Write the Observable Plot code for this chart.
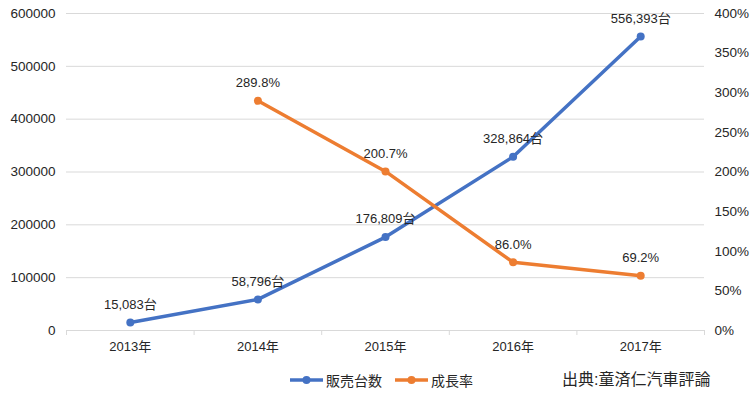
<!DOCTYPE html>
<html>
<head>
<meta charset="utf-8">
<script src="https://cdn.jsdelivr.net/npm/d3@7"></script>
<script src="https://cdn.jsdelivr.net/npm/@observablehq/plot@0.6"></script>
<style>
  body { margin: 0; background: #fff; }
  #wrap { position: relative; width: 755px; height: 394px; font-family: "Liberation Sans", Arial, "Noto Sans CJK JP", sans-serif; color: #262626; }
  #legend { position: absolute; top: 370px; left: 0; width: 755px; height: 22px; font-size: 14px; }
  .item { position: absolute; top: 0; display: flex; align-items: center; height: 20px; white-space: nowrap; }
  .src { position: absolute; top: 0; left: 562px; height: 20px; line-height: 20px; font-size: 16px; white-space: nowrap; }
</style>
</head>
<body>
<div id="wrap">
  <div id="chart"></div>
  <div id="legend"></div>
</div>
<script>
const years = ["2013年", "2014年", "2015年", "2016年", "2017年"];
const sales = [15083, 58796, 176809, 328864, 556393];
const growthYears = ["2014年", "2015年", "2016年", "2017年"];
const growth = [289.8, 200.7, 86.0, 69.2];
const leftTicks = [0, 100000, 200000, 300000, 400000, 500000, 600000];
const rightTicks = [0, 50, 100, 150, 200, 250, 300, 350, 400];
const seriesNames = ["販売台数", "成長率"];
const colors = ["#4472C4", "#ED7D31"];
const sourceText = "出典:童済仁汽車評論";

const ratio = 600000 / 400; // right axis (%) mapped onto left axis range
const salesData = sales.map((v, i) => ({i, v, label: d3.format(",")(v) + "台"}));
const growthData = growth.map((g, j) => ({i: years.indexOf(growthYears[j]), v: g * ratio, label: g.toFixed(1) + "%"}));
const bounds = d3.range(years.length + 1).map(k => k - 0.5);

const chart = Plot.plot({
  width: 755,
  height: 362,
  marginTop: 13,
  marginBottom: 32,
  marginLeft: 66,
  marginRight: 51,
  style: {fontFamily: '"Liberation Sans", Arial, "Noto Sans CJK JP", sans-serif', fontSize: "13px", color: "#262626", background: "#fff"},
  x: {type: "linear", domain: [-0.5, years.length - 0.5]},
  y: {domain: [0, 600000]},
  marks: [
    Plot.gridY(leftTicks.slice(1), {stroke: "#d9d9d9", strokeOpacity: 1, strokeWidth: 1}),
    Plot.ruleY([0], {stroke: "#d9d9d9", strokeWidth: 1}),
    Plot.axisX({ticks: bounds, tickSize: 5, tickFormat: () => "", stroke: "#d9d9d9", label: null}),
    Plot.axisX({ticks: d3.range(years.length), tickSize: 0, tickPadding: 11, tickFormat: i => years[i], label: null, fontSize: 13}),
    Plot.axisY({ticks: leftTicks, tickSize: 0, tickPadding: 11, tickFormat: d => String(d), label: null, fontSize: 13.5}),
    Plot.axisY({anchor: "right", ticks: rightTicks.map(p => p * ratio), tickSize: 0, tickPadding: 10, tickFormat: v => Math.round(v / ratio) + "%", label: null, fontSize: 13.5}),
    Plot.line(salesData, {x: "i", y: "v", stroke: colors[0], strokeWidth: 3.5}),
    Plot.dot(salesData, {x: "i", y: "v", r: 4, fill: colors[0]}),
    Plot.line(growthData, {x: "i", y: "v", stroke: colors[1], strokeWidth: 3.5}),
    Plot.dot(growthData, {x: "i", y: "v", r: 4, fill: colors[1]}),
    Plot.text(salesData, {x: "i", y: "v", text: "label", dy: -18, fontSize: 13, fill: "#262626"}),
    Plot.text(growthData, {x: "i", y: "v", text: "label", dy: -18, fontSize: 13, fill: "#262626"})
  ]
});
document.getElementById("chart").appendChild(chart);

const legend = document.getElementById("legend");
const positions = [290, 395];
seriesNames.forEach((name, k) => {
  const item = document.createElement("div");
  item.className = "item";
  item.style.left = positions[k] + "px";
  item.innerHTML = `<svg width="33" height="10" style="margin-right:3px"><line x1="0" y1="5" x2="33" y2="5" stroke="${colors[k]}" stroke-width="3.5"/><circle cx="16.5" cy="5" r="4" fill="${colors[k]}"/></svg><span>${name}</span>`;
  legend.appendChild(item);
});
const src = document.createElement("div");
src.className = "src";
src.textContent = sourceText;
legend.appendChild(src);
</script>
</body>
</html>
